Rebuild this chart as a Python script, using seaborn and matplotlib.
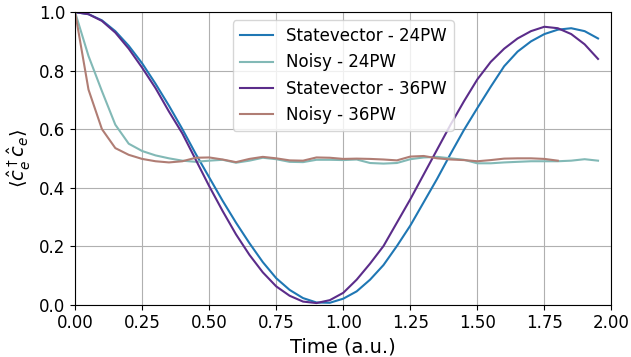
import numpy as np
import pandas as pd
import seaborn as sns
import matplotlib
matplotlib.use("Agg")
import matplotlib.pyplot as plt

# time grid (a.u.)
t_24 = np.round(np.arange(0, 2.0, 0.05), 2)
t_36n = np.round(np.arange(0, 1.85, 0.05), 2)

sv_24 = [1.0, 0.993, 0.972, 0.935, 0.885, 0.825, 0.755, 0.68, 0.60, 0.515,
         0.435, 0.355, 0.28, 0.21, 0.145, 0.09, 0.05, 0.022, 0.007, 0.006,
         0.02, 0.045, 0.085, 0.135, 0.20, 0.27, 0.35, 0.43, 0.515, 0.597,
         0.672, 0.745, 0.815, 0.865, 0.90, 0.925, 0.94, 0.945, 0.935, 0.91]

noisy_24 = [1.0, 0.85, 0.73, 0.615, 0.55, 0.525, 0.51, 0.50, 0.492, 0.488,
            0.492, 0.495, 0.485, 0.492, 0.502, 0.497, 0.488, 0.487, 0.495, 0.495,
            0.494, 0.496, 0.484, 0.482, 0.484, 0.497, 0.503, 0.505, 0.50, 0.495,
            0.483, 0.483, 0.486, 0.488, 0.49, 0.49, 0.49, 0.492, 0.497, 0.492]

sv_36 = [1.0, 0.993, 0.97, 0.93, 0.875, 0.81, 0.74, 0.66, 0.585, 0.495,
         0.405, 0.32, 0.24, 0.17, 0.11, 0.062, 0.03, 0.01, 0.005, 0.015,
         0.04, 0.085, 0.14, 0.20, 0.28, 0.36, 0.445, 0.53, 0.615, 0.695,
         0.77, 0.83, 0.875, 0.91, 0.935, 0.95, 0.945, 0.925, 0.89, 0.84]

noisy_36 = [1.0, 0.735, 0.60, 0.535, 0.512, 0.498, 0.49, 0.486, 0.49, 0.502,
            0.503, 0.496, 0.487, 0.498, 0.505, 0.50, 0.493, 0.492, 0.503, 0.502,
            0.498, 0.499, 0.498, 0.496, 0.493, 0.506, 0.508, 0.50, 0.496, 0.494,
            0.49, 0.494, 0.499, 0.50, 0.50, 0.498, 0.492]

series = [
    ("Statevector - 24PW", t_24, sv_24, "#1f77b4"),
    ("Noisy - 24PW", t_24, noisy_24, "#82b9b6"),
    ("Statevector - 36PW", t_24, sv_36, "#5b2c8a"),
    ("Noisy - 36PW", t_36n, noisy_36, "#b07d74"),
]

fig, ax = plt.subplots(figsize=(6.31, 3.57), dpi=100)
for name, t, v, c in series:
    sns.lineplot(x=t, y=v, ax=ax, color=c, label=name, linewidth=1.5)

ax.set_xlim(0, 2)
ax.set_ylim(0, 1)
ax.set_xticks(np.arange(0, 2.01, 0.25))
ax.set_yticks(np.arange(0, 1.01, 0.2))
ax.tick_params(labelsize=12)
ax.grid(True, color="#b0b0b0", linewidth=0.8)
ax.set_xlabel("Time (a.u.)", fontsize=14)
ax.set_ylabel(r"$\langle \hat{c}_e^\dagger \hat{c}_e \rangle$", fontsize=14)
ax.legend(loc="upper center", fontsize=12)

plt.subplots_adjust(left=0.119, right=0.969, top=0.966, bottom=0.147)
plt.savefig("out.png", dpi=100)
